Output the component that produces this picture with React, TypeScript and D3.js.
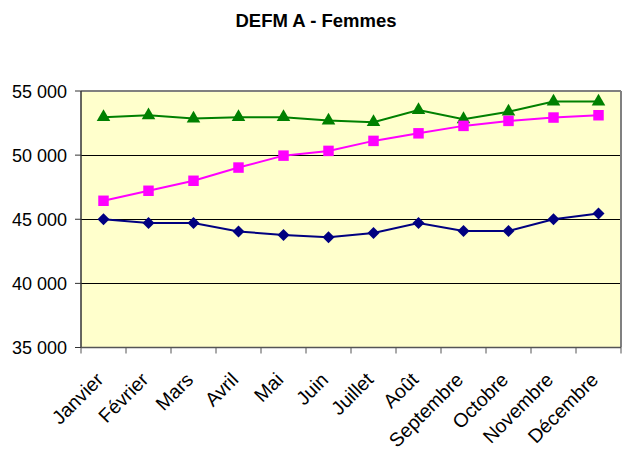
import React, {useEffect, useRef} from 'react';
import * as d3 from 'd3';

const mois = ['Janvier', 'Février', 'Mars', 'Avril', 'Mai', 'Juin', 'Juillet', 'Août', 'Septembre', 'Octobre', 'Novembre', 'Décembre'];
const serieBleue = [45000, 44700, 44700, 44050, 43770, 43600, 43920, 44700, 44080, 44080, 45000, 45450];
const serieRose = [46440, 47220, 48000, 49030, 49960, 50330, 51110, 51700, 52280, 52670, 52930, 53110];
const serieVerte = [52960, 53110, 52850, 52960, 52960, 52700, 52570, 53520, 52800, 53390, 54180, 54180];
const yTicks = [35000, 40000, 45000, 50000, 55000];

export default function App() {
  const svgRef = useRef<SVGSVGElement>(null);

  useEffect(() => {
    const w = 623;
    const h = 457;
    const svg = d3.select(svgRef.current).attr('width', w).attr('height', h);
    svg.selectAll('*').remove();

    const left = 81, right = 621, top = 91, bottom = 347.5;
    const x = d3.scaleBand().domain(mois).range([left, right]).padding(0);
    const y = d3.scaleLinear().domain([35000, 55000]).range([bottom, top]);
    const cx = (m: string) => (x(m) as number) + x.bandwidth() / 2;
    const font = 'Arial, "Liberation Sans", sans-serif';

    // title
    svg.append('text')
      .attr('x', 316).attr('y', 27)
      .attr('text-anchor', 'middle')
      .style('font-family', font).style('font-weight', 'bold').style('font-size', '18px')
      .attr('textLength', 161).attr('lengthAdjust', 'spacingAndGlyphs')
      .text('DEFM A - Femmes');

    // plot background
    svg.append('rect')
      .attr('x', left).attr('y', top)
      .attr('width', right - left).attr('height', bottom - top)
      .attr('fill', '#FFFFCC');

    // gridlines
    svg.selectAll('.grid')
      .data(yTicks.filter(t => t > 35000 && t < 55000))
      .join('line')
      .attr('x1', left).attr('x2', right)
      .attr('y1', d => Math.round(y(d)) + 0.5).attr('y2', d => Math.round(y(d)) + 0.5)
      .attr('stroke', '#000').attr('stroke-width', 1);

    // border top / right
    svg.append('line').attr('x1', left).attr('x2', right).attr('y1', top).attr('y2', top)
      .attr('stroke', '#808080').attr('stroke-width', 2);
    svg.append('line').attr('x1', right).attr('x2', right).attr('y1', top).attr('y2', bottom)
      .attr('stroke', '#808080').attr('stroke-width', 2);

    // y axis
    svg.append('line').attr('x1', left).attr('x2', left).attr('y1', top).attr('y2', bottom)
      .attr('stroke', '#333').attr('stroke-width', 1.5);
    svg.selectAll('.ytick')
      .data(yTicks)
      .join('line')
      .attr('x1', left - 6).attr('x2', left)
      .attr('y1', d => y(d)).attr('y2', d => y(d))
      .attr('stroke', '#333');
    svg.selectAll('.ylab')
      .data(yTicks)
      .join('text')
      .attr('x', 67).attr('y', d => y(d) + 6.5)
      .attr('text-anchor', 'end')
      .style('font-family', font).style('font-size', '18px')
      .text(d => d3.format(',')(d).replace(',', ' '));

    // x axis
    svg.append('line').attr('x1', left).attr('x2', right).attr('y1', bottom).attr('y2', bottom)
      .attr('stroke', '#555').attr('stroke-width', 1.5);
    const bounds = mois.map(m => x(m) as number).concat([right]);
    svg.selectAll('.xtick')
      .data(bounds)
      .join('line')
      .attr('x1', d => d).attr('x2', d => d)
      .attr('y1', bottom).attr('y2', bottom + 6)
      .attr('stroke', '#555');
    svg.selectAll('.xlab')
      .data(mois)
      .join('text')
      .attr('transform', d => `translate(${cx(d) + 1},${381}) rotate(-45)`)
      .attr('text-anchor', 'end')
      .style('font-family', font).style('font-size', '19.5px')
      .text(d => d);

    const series = [
      {values: serieVerte, color: '#008000', symbol: d3.symbolTriangle, size: 80, rot: 0},
      {values: serieRose, color: '#FF00FF', symbol: d3.symbolSquare, size: 110, rot: 0},
      {values: serieBleue, color: '#000080', symbol: d3.symbolSquare, size: 72, rot: 45},
    ];

    const line = d3.line<number>().x((_, i) => cx(mois[i])).y(d => y(d));

    series.forEach(s => {
      svg.append('path')
        .attr('d', line(s.values))
        .attr('fill', 'none')
        .attr('stroke', s.color)
        .attr('stroke-width', 2);
      svg.selectAll(null)
        .data(s.values)
        .join('path')
        .attr('d', d3.symbol().type(s.symbol).size(s.size)())
        .attr('transform', (d, i) => `translate(${cx(mois[i])},${y(d)}) rotate(${s.rot})`)
        .attr('fill', s.color);
    });
  }, []);

  return (
    <div style={{position: 'absolute', left: 0, top: 0}}>
      <svg ref={svgRef}></svg>
    </div>
  );
}
